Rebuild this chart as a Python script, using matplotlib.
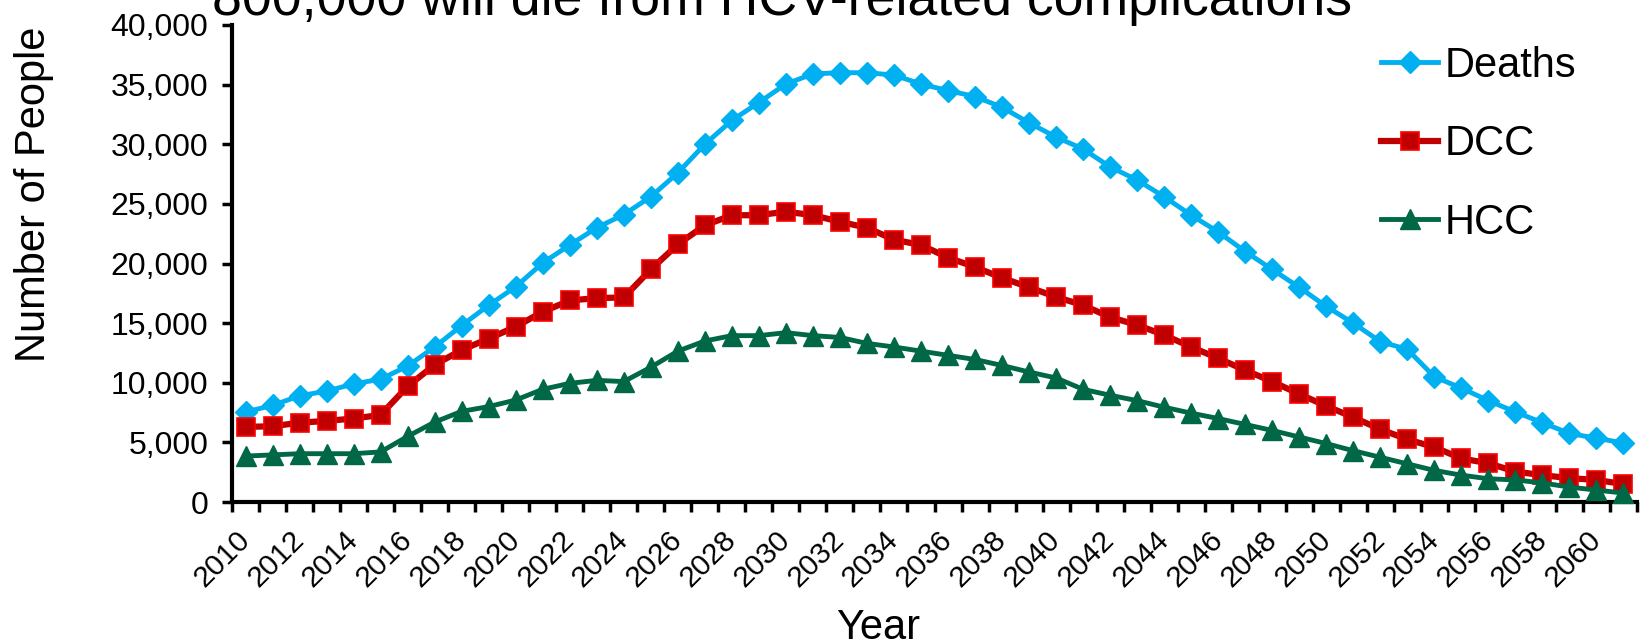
import matplotlib
matplotlib.use("Agg")
import matplotlib.pyplot as plt
from matplotlib.ticker import FuncFormatter, MultipleLocator, FixedLocator

plt.rcParams["font.family"] = ["Liberation Sans", "DejaVu Sans"]

years = list(range(2010, 2062))

deaths = [7550, 8100, 8900, 9300, 9900, 10300, 11400, 13000, 14800, 16500,
          18050, 20050, 21550, 23000, 24100, 25600, 27600, 30000, 32000, 33500,
          35050, 35900, 36000, 36000, 35800, 35050, 34500, 34000, 33100, 31800,
          30600, 29600, 28100, 27000, 25600, 24050, 22650, 21000, 19500, 18000,
          16400, 15000, 13450, 12800, 10500, 9550, 8500, 7550, 6650, 5750,
          5350, 4950]

dcc = [6300, 6350, 6650, 6800, 7000, 7300, 9700, 11500, 12750, 13700,
       14700, 15950, 16900, 17100, 17150, 19500, 21600, 23200, 24050, 24050,
       24350, 24050, 23500, 23000, 22000, 21550, 20500, 19700, 18800, 18000,
       17200, 16500, 15500, 14850, 14000, 13000, 12050, 11050, 10100, 9050,
       8050, 7100, 6100, 5250, 4600, 3650, 3250, 2550, 2250, 2000,
       1850, 1500]

hcc = [3850, 3950, 4050, 4050, 4050, 4200, 5500, 6700, 7600, 8000,
       8550, 9450, 9950, 10200, 10100, 11300, 12650, 13500, 13950, 13950,
       14200, 13950, 13800, 13300, 13000, 12650, 12300, 11950, 11450, 10900,
       10400, 9450, 8950, 8500, 7950, 7450, 7000, 6500, 6000, 5450,
       4900, 4300, 3750, 3200, 2650, 2250, 1950, 1850, 1600, 1250,
       1000, 750]

label_years = years[::2]  # 2010 ... 2060

fig = plt.figure(figsize=(16.43, 6.43), dpi=100)
ax = fig.add_axes([232 / 1643, 1 - 502 / 643, (1637 - 232) / 1643, (502 - 25) / 643])

ax.plot(years, deaths, color="#00B0F0", lw=3.5, marker="D", ms=11.5,
        mfc="#00B0F0", mec="#00B0F0", label="Deaths", clip_on=False, zorder=3)
ax.plot(years, dcc, color="#C00000", lw=4.5, marker="s", ms=13.5,
        mfc="#C00000", mec="#FF0000", mew=1.2, label="DCC", clip_on=False, zorder=4)
ax.plot(years, hcc, color="#006846", lw=3.5, marker="^", ms=14,
        mfc="#006846", mec="#006846", label="HCC", clip_on=False, zorder=5)

ax.set_xlim(years[0] - 0.5, years[-1] + 0.5)
ax.set_ylim(0, 40000)

for side in ["top", "right"]:
    ax.spines[side].set_visible(False)
for side in ["left", "bottom"]:
    ax.spines[side].set_linewidth(3)

ax.yaxis.set_major_locator(MultipleLocator(5000))
ax.yaxis.set_major_formatter(FuncFormatter(lambda v, p: f"{int(v):,}"))
ax.tick_params(axis="y", which="major", direction="out", length=7, width=2.5,
               labelsize=23, pad=10)

ax.xaxis.set_major_locator(FixedLocator(label_years))
ax.xaxis.set_minor_locator(FixedLocator([y - 0.5 for y in years] + [years[-1] + 0.5]))
ax.set_xticklabels([str(y) for y in label_years], rotation=45, ha="right",
                   va="center", rotation_mode="anchor")
ax.tick_params(axis="x", which="major", length=0, labelsize=21.5, pad=24)
ax.tick_params(axis="x", which="minor", direction="out", length=7, width=2.5)

fig.text(34 / 1643, 1 - 194 / 643, "Number of People", rotation=90,
         ha="center", va="center", fontsize=30)
fig.text(878 / 1643, 1 - 639 / 643, "Year", ha="center", va="baseline", fontsize=30)
fig.text(212 / 1643, 1 - 15 / 643, "800,000 will die from HCV-related complications",
         ha="left", va="baseline", fontsize=38.6)

ax.legend(loc="upper left", bbox_to_anchor=(1381 / 1643, 1 - 46 / 643),
          bbox_transform=fig.transFigure, frameon=False, fontsize=30,
          borderpad=0, borderaxespad=0, handlelength=1.37, handletextpad=0.15,
          labelspacing=0.92, numpoints=1)

fig.savefig("out.png", dpi=100)
